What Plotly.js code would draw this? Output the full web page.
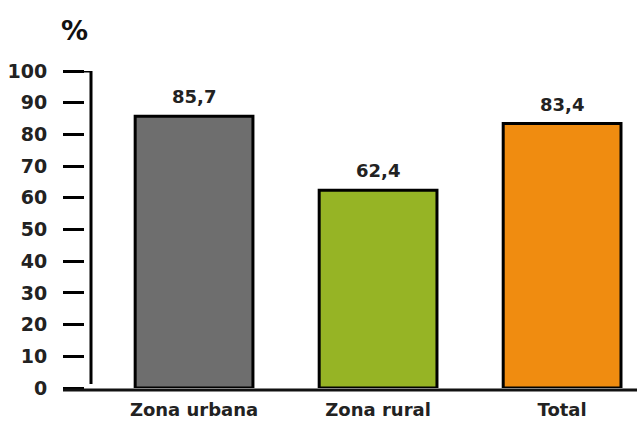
<!DOCTYPE html>
<html>
<head>
<meta charset="utf-8">
<script src="https://cdn.plot.ly/plotly-3.0.1.min.js"></script>
<style>html,body{margin:0;padding:0;background:#fff}#chart{width:637px;height:424px}</style>
</head>
<body>
<div id="chart"></div>
<script>
const categories = ["Zona urbana", "Zona rural", "Total"];
const values = [85.7, 62.4, 83.4];
const barColors = ["#6e6e6e", "#96b425", "#f08c10"];
const yTicks = [0, 10, 20, 30, 40, 50, 60, 70, 80, 90, 100];

const FONT = "'DejaVu Sans', 'Open Sans', sans-serif";
const W = 637, H = 424;
const marginL = 84, marginT = 71, marginB = 36;
const plotW = W - marginL;
const plotH = H - marginT - marginB;
const axisStart = 7 / plotW;       // paper fraction where the vertical axis line sits
const tickLeft = (63 - marginL) / plotW;

const fmt = v => v.toFixed(1).replace('.', ',');

const trace = {
  type: 'bar',
  x: categories,
  y: values,
  width: 0.64,
  marker: {color: barColors, line: {color: '#000', width: 3}},
  hoverinfo: 'none'
};

const annotations = categories.map((c, i) => ({
  x: c, y: values[i], xref: 'x', yref: 'y',
  text: fmt(values[i]), showarrow: false,
  yanchor: 'bottom', yshift: 7,
  font: {family: FONT, size: 18, color: '#222', weight: 'bold'}
}));
annotations.push({
  xref: 'paper', yref: 'paper',
  x: (74 - marginL) / plotW, y: (H - marginB - 31) / plotH,
  yanchor: 'middle', xanchor: 'center',
  text: '<b>%</b>', showarrow: false,
  font: {family: FONT, size: 27, color: '#111', weight: 'bold'}
});

const layout = {
  width: W, height: H,
  margin: {l: marginL, r: 0, t: marginT, b: marginB, pad: 0},
  paper_bgcolor: '#fff', plot_bgcolor: '#fff',
  showlegend: false,
  xaxis: {
    domain: [axisStart, 1],
    type: 'category',
    range: [-0.56, 2.407],
    showline: false, showgrid: false, zeroline: false,
    ticks: '', ticklabelstandoff: 9,
    tickfont: {family: FONT, size: 18, color: '#222', weight: 'bold'},
    fixedrange: true
  },
  yaxis: {
    range: [0, 100],
    anchor: 'free', position: 0,
    tickvals: yTicks, ticktext: yTicks.map(String),
    ticks: 'outside', ticklen: 21, tickwidth: 3, tickcolor: '#000',
    showline: false, showgrid: false, zeroline: false,
    ticklabelstandoff: 12,
    tickfont: {family: FONT, size: 19, color: '#222', weight: 'bold'},
    fixedrange: true
  },
  shapes: [
    {type: 'line', xref: 'paper', yref: 'y', x0: axisStart, x1: axisStart, y0: 1.3, y1: 100,
     line: {color: '#000', width: 3}},
    {type: 'line', xref: 'paper', yref: 'y', x0: 0, x1: axisStart, y0: 100, y1: 100,
     line: {color: '#000', width: 3}},
    {type: 'line', xref: 'paper', yref: 'paper', x0: tickLeft, x1: 1, y0: -2 / plotH, y1: -2 / plotH,
     line: {color: '#111', width: 3}}
  ],
  annotations: annotations
};

Plotly.newPlot('chart', [trace], layout, {displayModeBar: false, staticPlot: true});
</script>
</body>
</html>
